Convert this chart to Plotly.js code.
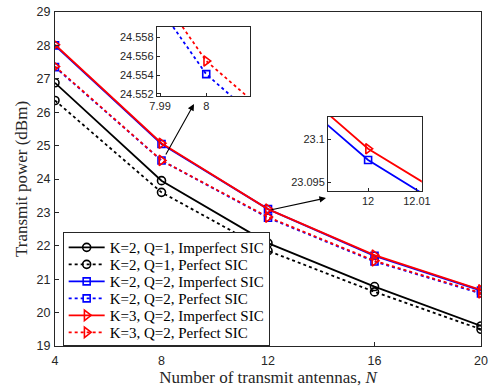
<!DOCTYPE html>
<html>
<head>
<meta charset="utf-8">
<script src="https://cdn.plot.ly/plotly-3.0.1.min.js"></script>
<style>html,body{margin:0;padding:0;background:#fff;}#chart{width:492px;height:392px;}</style>
</head>
<body>
<div id="chart"></div>
<script>
// Data
var N = [4, 8, 12, 16, 20];
var k2q1Imperfect = [26.88, 23.95, 22.08, 20.78, 19.60];
var k2q1Perfect   = [26.35, 23.60, 21.85, 20.62, 19.50];
var k2q2Imperfect = [28.00, 25.05, 23.0976, 21.70, 20.66];
var k2q2Perfect   = [27.35, 24.5541, 22.84, 21.53, 20.57];
var k3q2Imperfect = [28.02, 25.07, 23.0989, 21.72, 20.68];
var k3q2Perfect   = [27.37, 24.5555, 22.86, 21.55, 20.59];
var seriesNames = [
  'K=2, Q=1, Imperfect SIC', 'K=2, Q=1, Perfect SIC',
  'K=2, Q=2, Imperfect SIC', 'K=2, Q=2, Perfect SIC',
  'K=3, Q=2, Imperfect SIC', 'K=3, Q=2, Perfect SIC'
];
var xTicks = [4, 8, 12, 16, 20];
var yTicks = [19, 20, 21, 22, 23, 24, 25, 26, 27, 28, 29];
var inset1XTicks = [7.99, 8], inset1XText = ['7.99', '8'];
var inset1YTicks = [24.552, 24.554, 24.556, 24.558];
var inset2XTicks = [12, 12.01], inset2XText = ['12', '12.01'];
var inset2YTicks = [23.095, 23.1], inset2YText = ['23.095', '23.1'];

var styles = [
  {c: '#000000', d: 'solid', s: 'circle-open', ms: 8},
  {c: '#000000', d: 'dot',   s: 'circle-open', ms: 8},
  {c: '#0000ff', d: 'solid', s: 'square-open', ms: 7},
  {c: '#0000ff', d: 'dot',   s: 'square-open', ms: 7},
  {c: '#ff0000', d: 'solid', s: 'triangle-right-open', ms: 9},
  {c: '#ff0000', d: 'dot',   s: 'triangle-right-open', ms: 9}
];
var allY = [k2q1Imperfect, k2q1Perfect, k2q2Imperfect, k2q2Perfect, k3q2Imperfect, k3q2Perfect];

var traces = [];
allY.forEach(function (ys, i) {
  var st = styles[i];
  traces.push({
    x: N, y: ys, name: seriesNames[i], type: 'scatter', mode: 'lines+markers',
    line: {color: st.c, width: 1.8, dash: st.d},
    marker: {symbol: st.s, size: st.ms, color: st.c, line: {width: 1.6, color: st.c}},
    xaxis: 'x', yaxis: 'y'
  });
});
// Inset 1: perfect SIC series near N=8
[3, 5].forEach(function (i) {
  var st = styles[i];
  traces.push({
    x: N, y: allY[i], type: 'scatter', mode: 'lines+markers', showlegend: false,
    line: {color: st.c, width: 1.8, dash: st.d},
    marker: {symbol: st.s, size: st.ms, color: st.c, line: {width: 1.6, color: st.c}},
    xaxis: 'x2', yaxis: 'y2', cliponaxis: true
  });
});
// Inset 2: imperfect SIC series near N=12
[2, 4].forEach(function (i) {
  var st = styles[i];
  traces.push({
    x: N, y: allY[i], type: 'scatter', mode: 'lines+markers', showlegend: false,
    line: {color: st.c, width: 1.8, dash: st.d},
    marker: {symbol: st.s, size: st.ms, color: st.c, line: {width: 1.6, color: st.c}},
    xaxis: 'x3', yaxis: 'y3', cliponaxis: true
  });
});

var axColor = '#262626';
var tickFont = {family: 'Liberation Sans, Arial, sans-serif', size: 12.5, color: axColor};
var insetFont = {family: 'Liberation Sans, Arial, sans-serif', size: 11, color: axColor};
var titleFont = {family: 'Liberation Serif, Times New Roman, serif', size: 17, color: axColor};
function axBase(extra) {
  var o = {showgrid: false, zeroline: false, showline: true, mirror: true, linecolor: axColor,
    linewidth: 1, ticks: 'inside', ticklen: 4, tickcolor: axColor, tickfont: tickFont};
  for (var k in extra) o[k] = extra[k];
  return o;
}

var layout = {
  width: 492, height: 392,
  margin: {l: 55, r: 11, t: 12, b: 46},
  paper_bgcolor: '#fff', plot_bgcolor: '#fff',
  showlegend: true,
  xaxis: axBase({range: [4, 20], tickvals: xTicks, domain: [0, 1], anchor: 'y',
    ticklabelstandoff: 3,
    title: {text: 'Number of transmit antennas, <i>N</i>', standoff: 0, font: titleFont}}),
  yaxis: axBase({range: [19, 29], tickvals: yTicks, domain: [0, 1], anchor: 'x',
    ticklabelstandoff: 1,
    title: {text: 'Transmit power (dBm)', standoff: 4, font: titleFont}}),
  xaxis2: axBase({range: [7.9893, 8.0095], tickvals: inset1XTicks, ticktext: inset1XText,
    domain: [0.239, 0.458], anchor: 'y2', tickfont: insetFont, ticklen: 3}),
  yaxis2: axBase({range: [24.5518, 24.5591], tickvals: inset1YTicks, tickformat: '.3f',
    domain: [0.749, 0.955], anchor: 'x2', tickfont: insetFont, ticklen: 3}),
  xaxis3: axBase({range: [11.9918, 12.011], tickvals: inset2XTicks, ticktext: inset2XText,
    domain: [0.641, 0.861], anchor: 'y3', tickfont: insetFont, ticklen: 3}),
  yaxis3: axBase({range: [23.094, 23.1026], tickvals: inset2YTicks, ticktext: inset2YText,
    domain: [0.464, 0.686], anchor: 'x3', tickfont: insetFont, ticklen: 3}),
  legend: {x: 0.018, y: 0.341, xanchor: 'left', yanchor: 'top',
    bgcolor: '#fff', bordercolor: axColor, borderwidth: 1,
    font: {family: 'Liberation Serif, Times New Roman, serif', size: 15, color: '#000'},
    tracegroupgap: 0, itemwidth: 36},
  annotations: [
    {xref: 'paper', yref: 'paper', x: 0.3263, y: 0.7246, ax: -29, ay: 52, text: '',
      showarrow: true, arrowhead: 2, arrowsize: 1.2, arrowwidth: 1.1, arrowcolor: '#000'},
    {xref: 'paper', yref: 'paper', x: 0.6362, y: 0.4431, ax: -56, ay: 12, text: '',
      showarrow: true, arrowhead: 2, arrowsize: 1.2, arrowwidth: 1.1, arrowcolor: '#000'}
  ]
};

Plotly.newPlot('chart', traces, layout, {displayModeBar: false, staticPlot: true}).then(function (gd) {
  // Tighten legend row spacing to match the compact reference legend
  var rowGap = 17;
  var items = gd.querySelectorAll('.legend .traces');
  if (!items.length) return;
  var parse = function (el) {
    var t = el.getAttribute('transform') || '';
    var m = /translate\(\s*([-\d.]+)[ ,]+([-\d.]+)/.exec(t);
    return m ? [parseFloat(m[1]), parseFloat(m[2])] : [0, 0];
  };
  var first = parse(items[0]);
  var last = parse(items[items.length - 1]);
  var oldSpan = last[1] - first[1];
  var y0 = first[1] - 2;
  items.forEach(function (el, i) {
    var p = parse(el);
    el.setAttribute('transform', 'translate(' + p[0] + ',' + (y0 + i * rowGap) + ')');
  });
  var shrink = oldSpan - (items.length - 1) * rowGap + 6;
  var rects = gd.querySelectorAll('.legend rect.bg');
  rects.forEach(function (r) {
    var h = parseFloat(r.getAttribute('height'));
    r.setAttribute('height', h - shrink);
  });
  var clip = document.querySelectorAll('clipPath[id*="legend"] rect');
  clip.forEach(function (r) {
    var h = parseFloat(r.getAttribute('height'));
    r.setAttribute('height', h - shrink);
  });
});
</script>
</body>
</html>
